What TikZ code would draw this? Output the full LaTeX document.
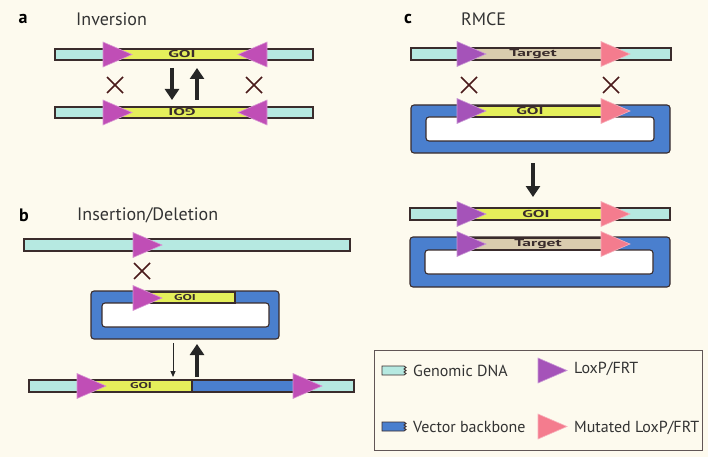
\documentclass[tikz,border=0pt]{standalone}
\usepackage{fontspec}
\setmainfont{PT Sans}
\usetikzlibrary{arrows.meta}
\definecolor{bg}{HTML}{FDFAEE}
\definecolor{dna}{HTML}{B6E9E1}
\definecolor{goi}{HTML}{E5EF5B}
\definecolor{tgt}{HTML}{D9CCAE}
\definecolor{vec}{HTML}{4A7FCE}
\definecolor{loxa}{HTML}{C04EB6}
\definecolor{loxc}{HTML}{A553B9}
\definecolor{mut}{HTML}{F47C8E}
\definecolor{edge}{HTML}{3A2C2C}
\definecolor{xmark}{HTML}{4A1A1A}
\definecolor{txt}{HTML}{333333}
\tikzset{
  bar/.style={draw=edge,line width=1.1pt},
  vecout/.style={draw=edge,line width=1.1pt,fill=vec,rounded corners=3pt},
  vecin/.style={draw=edge,line width=1.1pt,fill=white,rounded corners=3pt},
  band/.style={font=\bfseries\fontsize{10}{10}\selectfont,text=edge,inner sep=0pt,xscale=1.75},
  bandsmall/.style={font=\bfseries\fontsize{8.5}{8.5}\selectfont,text=edge,inner sep=0pt,xscale=1.65},
  letter/.style={font=\bfseries\fontsize{18}{18}\selectfont,text=black,inner sep=0pt},
  title/.style={font=\fontsize{18}{18}\selectfont,text=txt,inner sep=0pt,anchor=west},
  legtext/.style={font=\fontsize{16}{16}\selectfont,text=txt,inner sep=0pt,anchor=west},
  bigarrow/.style={-{Triangle[width=14pt,length=11pt]},line width=4pt,draw=black!85},
  thinarrow/.style={-{Triangle[width=5pt,length=6pt]},line width=1pt,draw=black!85},
  pics/loxr/.style={code={\filldraw[fill=#1,draw=#1!60!white,line width=0.6pt] (0,-12.5) -- (29,0) -- (0,12.5) -- cycle;}},
  pics/loxl/.style={code={\filldraw[fill=#1,draw=#1!60!white,line width=0.6pt] (0,-12.5) -- (-29,0) -- (0,12.5) -- cycle;}},
  pics/xcross/.style={code={\draw[xmark,line width=1.7pt] (-8,-8) -- (8,8) (-8,8) -- (8,-8);}},
}
\begin{document}
\begin{tikzpicture}[x=1pt,y=-1pt]
\fill[bg] (0,0) rectangle (708,457);
\useasboundingbox (0,0) rectangle (708,457);

% ---------------- panel a
\node[letter] (la) at (23,19) {a};
\node[title] (ta) at (76,19) {Inversion};
\draw[bar,fill=dna] (55,49) rectangle (313,60);
\draw[bar,fill=goi] (110,49) rectangle (260,60);
\node[band] (goia1) at (182,54.5) {GOI};
\pic at (103,54.5) {loxr=loxa};
\pic at (267,54.5) {loxl=loxa};
\draw[bar,fill=dna] (55,107) rectangle (313,118);
\draw[bar,fill=goi] (110,107) rectangle (260,118);
\node[band,rotate=180] (goia2) at (182,112.5) {GOI};
\pic at (103,112.5) {loxr=loxa};
\pic at (267,112.5) {loxl=loxa};
\pic at (115,85) {xcross};
\pic at (254,85) {xcross};
\coordinate (a1s) at (172,68);
\coordinate (a1e) at (172,100);
\coordinate (a2s) at (197,100);
\coordinate (a2e) at (197,68);
\draw[bigarrow] (a1s) -- (a1e);
\draw[bigarrow] (a2s) -- (a2e);

% ---------------- panel b
\node[letter] (lb) at (24,215) {b};
\node[title] (tb) at (77,215) {Insertion/Deletion};
\draw[bar,fill=dna] (24,239) rectangle (350,251);
\pic at (133,245) {loxr=loxa};
\pic at (142,271) {xcross};
\draw[vecout] (91,291) rectangle (279,339);
\draw[vecin] (102,303) rectangle (269,327);
\draw[bar,fill=goi] (140,292) rectangle (235,303);
\node[bandsmall] (goib1) at (185,297.5) {GOI};
\pic at (133,298) {loxr=loxa};
\coordinate (b1s) at (173,343);
\coordinate (b1e) at (173,377);
\coordinate (b2s) at (197,377);
\coordinate (b2e) at (197,344);
\draw[thinarrow] (b1s) -- (b1e);
\draw[bigarrow] (b2s) -- (b2e);
\draw[bar,fill=dna] (29,380) rectangle (354,392);
\fill[vec] (192,380) rectangle (305,392);
\draw[bar,fill=goi] (90,380) rectangle (192,392);
\draw[bar] (29,380) rectangle (354,392);
\node[bandsmall] (goib2) at (141,386) {GOI};
\pic at (77,386) {loxr=loxa};
\pic at (293,386) {loxr=loxa};

% ---------------- panel c
\node[letter] (lc) at (408,19) {c};
\node[title] (tc) at (461,19) {RMCE};
\draw[bar,fill=dna] (411,48) rectangle (671,60);
\draw[bar,fill=tgt] (470,48) rectangle (605,60);
\node[band] (tgtc1) at (533,54) {Target};
\pic at (457,54) {loxr=loxc};
\pic at (601,54) {loxr=mut};
\pic at (469,85) {xcross};
\pic at (611,85) {xcross};
\draw[vecout] (411,105) rectangle (670,153);
\draw[vecin] (426,117) rectangle (654,141);
\draw[bar,fill=goi] (470,106) rectangle (605,117);
\node[band] (goic1) at (530,111.5) {GOI};
\pic at (457,111) {loxr=loxc};
\pic at (601,111) {loxr=mut};
\coordinate (c1s) at (533,163);
\coordinate (c1e) at (533,197);
\draw[bigarrow] (c1s) -- (c1e);
\draw[bar,fill=dna] (410,208) rectangle (670,220);
\draw[bar,fill=goi] (470,208) rectangle (605,220);
\node[band] (goic2) at (536,214) {GOI};
\pic at (457,214) {loxr=loxc};
\pic at (601,214) {loxr=mut};
\draw[vecout] (410,237) rectangle (670,287);
\draw[vecin] (425,250) rectangle (653,274);
\draw[bar,fill=tgt] (470,238) rectangle (605,250);
\node[band] (tgtc2) at (538,244.5) {Target};
\pic at (457,244) {loxr=loxc};
\pic at (601,244) {loxr=mut};

% ---------------- legend
\draw[draw=edge!80,line width=1pt] (374,350) rectangle (702,450);
\draw[bar,line width=0.9pt,fill=dna] (382,366) -- (404,366) -- (406,367.5) -- (404,369) -- (406,370.5) -- (404,372) -- (406,373.5) -- (404,375) -- (382,375) -- cycle;
\node[legtext] (lg1) at (413,371) {Genomic DNA};
\draw[bar,line width=0.9pt,fill=vec] (382,422) -- (404,422) -- (406,423.5) -- (404,425) -- (406,426.5) -- (404,428) -- (406,429.5) -- (404,431) -- (382,431) -- cycle;
\node[legtext] (lg2) at (413,427) {Vector backbone};
\pic at (538,370.5) {loxr=loxc};
\node[legtext] (lg3) at (574,369) {LoxP/FRT};
\pic at (538,426.5) {loxr=mut};
\node[legtext] (lg4) at (574,428) {Mutated LoxP/FRT};
\end{tikzpicture}
\end{document}
